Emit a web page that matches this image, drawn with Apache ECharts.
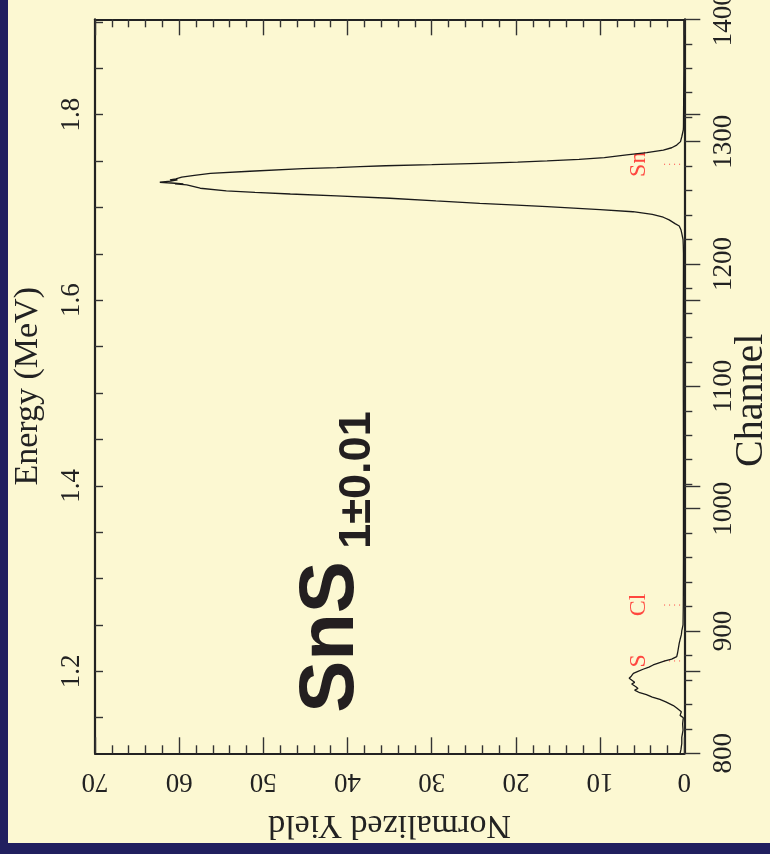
<!DOCTYPE html>
<html><head><meta charset="utf-8">
<script src="https://cdn.jsdelivr.net/npm/echarts@6/dist/echarts.min.js"></script>
<style>
html,body{margin:0;padding:0;background:#211f5f;width:770px;height:854px;overflow:hidden}
#c{position:absolute;left:8px;top:0;width:762px;height:843px;}
</style></head><body><div id="c"></div>
<script>
// Spectrum: channel (vertical axis) vs normalized yield (horizontal axis)
const channels = [800,803,808,813,819,824,829,831,834,837,839,842,844,846,848,849.5,851.7,853,854.4,856.6,858,859.3,861.3,863,865.4,867,868.7,870.5,872.2,874,875.5,877,879,882,886,890,893,897,900,905,920,960,1000,1050,1100,1150,1200,1209,1215,1220,1225,1228,1231,1233,1236,1238.2,1240.5,1242.7,1244.5,1246.8,1248.3,1249.6,1251.5,1253.7,1255.6,1257.2,1258.5,1259.7,1261.9,1264.6,1265.4,1265.5,1266,1266.8,1267.8,1268.7,1268.8,1269.5,1270.9,1272.5,1274.1,1275.8,1277.9,1278.7,1279.5,1280.3,1281.2,1282.3,1283.3,1284.2,1285.5,1287,1289.1,1291,1293.1,1295,1297.2,1300,1301.3,1304,1309.5,1312,1330,1360,1400];
const yields   = [0.5,0.4,0.3,0.3,0.15,0.2,0.12,0.5,0.35,0.9,1.3,2.2,2.9,3.8,4.5,5.3,5.9,5.5,5.75,6.25,5.9,6.1,6.55,6.3,6.05,5.5,4.9,4.2,3.7,3.0,2.3,1.5,0.9,0.8,0.7,0.6,0.5,0.35,0.3,0.15,0.12,0.1,0.1,0.1,0.12,0.12,0.1,0.1,0.12,0.15,0.3,0.4,0.6,1.1,1.8,2.5,3.8,6.1,10,16.3,20.5,24.3,29.5,35,41.3,46.8,51,54.4,57.5,59.1,60.5,59.5,60.5,62.3,61.0,60.2,61.1,60.4,59.7,58.2,56.3,51.6,45.3,41.3,38.5,35.5,30,24.3,19.8,16.3,12.5,9.5,6.84,4.47,2.49,1.5,0.9,0.45,0.31,0.3,0.12,0.1,0.08,0.05,0.05];

// Surface-edge markers
const markerNames = ['Sn','Cl','S'];
const markerChannels = [1281.5, 921.2, 875.5];
const markerYieldRange = [0.5, 2.7];
const markerLabelYield = 5.45;

// Axes
const channelRange = [800, 1400];
const yieldRange = [0, 70];
const energyLabelValues = [1.2, 1.4, 1.6, 1.8];
const energyMinorValues = [1.15,1.2,1.25,1.3,1.35,1.4,1.45,1.5,1.55,1.6,1.65,1.7,1.75,1.8,1.85,1.9];
// energy calibration: E = e0 + slope*(ch - ch0)
const energyCal = {ch0: 867.0, e0: 1.2, slope: 0.0013184};
const eMin = energyCal.e0 + energyCal.slope*(channelRange[0]-energyCal.ch0);
const eMax = energyCal.e0 + energyCal.slope*(channelRange[1]-energyCal.ch0);

const formulaMain = 'SnS';
const formulaSub = '1±0.01';

const axisColor = '#222';
const tickStyle = {color:'#333', width:1.4};
const serif = 'Liberation Serif';
const tickFont = {fontFamily: serif, fontSize: 27, color: '#222'};
const nameFont = {fontFamily: serif, fontSize: 34, color: '#222'};

const chart = echarts.init(document.getElementById('c'), null, {renderer:'canvas'});

const series = [{
  type:'line', xAxisIndex:0, yAxisIndex:0,
  data: channels.map((c,i)=>[yields[i], c]),
  symbol:'none', lineStyle:{color:'#1a1a1a', width:1.3}, z:5
}];
markerChannels.forEach((c)=>{
  series.push({type:'line', xAxisIndex:0, yAxisIndex:0, symbol:'none',
    data:[[markerYieldRange[0],c],[markerYieldRange[1],c]],
    lineStyle:{color:'#ff4040', width:1, type:[1,4]}});
});
series.push({type:'scatter', xAxisIndex:0, yAxisIndex:0, symbolSize:1,
  itemStyle:{color:'rgba(0,0,0,0)'},
  data: markerChannels.map((c,i)=>({name:markerNames[i], value:[markerLabelYield,c]})),
  label:{show:true, position:'inside', rotate:90, formatter:p=>p.name,
    fontFamily:serif, fontSize:24, color:'#ff1a1a'}});

chart.setOption({
  animation:false,
  backgroundColor:'#fcf8d2',
  grid:{left:87, right:85.7, top:19.3, bottom:89.7, containLabel:false, outerBoundsMode:'none'},
  xAxis:[
    {type:'value', position:'bottom', inverse:true, min:yieldRange[0], max:yieldRange[1], interval:10,
     axisLine:{show:true, onZero:false, lineStyle:{color:axisColor, width:2.2}},
     axisTick:{show:true, inside:true, length:16, lineStyle:tickStyle},
     minorTick:{show:true, splitNumber:5, length:8, lineStyle:tickStyle},
     splitLine:{show:false}, minorSplitLine:{show:false},
     axisLabel:Object.assign({rotate:180, margin:14, showMinLabel:true, showMaxLabel:true}, tickFont),
     name:'Normalized Yield', nameLocation:'middle', nameGap:55, nameRotate:180, nameTextStyle:nameFont},
    {type:'value', position:'top', inverse:true, min:yieldRange[0], max:yieldRange[1], interval:10,
     axisLine:{show:true, onZero:false, lineStyle:{color:axisColor, width:2.2}},
     axisTick:{show:true, inside:true, length:16, lineStyle:tickStyle},
     minorTick:{show:true, splitNumber:5, length:8, lineStyle:tickStyle},
     splitLine:{show:false}, axisLabel:{show:false}}
  ],
  yAxis:[
    {type:'value', position:'right', min:channelRange[0], max:channelRange[1], interval:100,
     axisLine:{show:true, onZero:false, lineStyle:{color:axisColor, width:2.2}},
     axisTick:{show:true, inside:false, length:16, lineStyle:tickStyle},
     minorTick:{show:true, splitNumber:5, length:8, lineStyle:tickStyle},
     splitLine:{show:false},
     axisLabel:Object.assign({rotate:90, margin:26, showMinLabel:true, showMaxLabel:true, formatter:v=>String(v)}, tickFont),
     name:'Channel', nameLocation:'middle', nameGap:47, nameRotate:90, nameMoveOverlap:false,
     nameTextStyle:Object.assign({}, nameFont, {fontSize:40, padding:[0,28,0,0]})},
    {type:'value', position:'left', min:eMin, max:eMax,
     axisLine:{show:true, onZero:false, lineStyle:{color:axisColor, width:2.2}},
     axisTick:{show:true, inside:true, length:8, lineStyle:tickStyle, customValues:energyMinorValues},
     splitLine:{show:false},
     axisLabel:Object.assign({rotate:90, margin:10, customValues:energyLabelValues, formatter:v=>v.toFixed(1)}, tickFont),
     name:'Energy (MeV)', nameLocation:'middle', nameGap:50, nameRotate:90, nameTextStyle:nameFont},
    {type:'value', position:'left', min:eMin, max:eMax,
     axisLine:{show:false},
     axisTick:{show:true, inside:true, length:16, lineStyle:tickStyle, customValues:energyLabelValues},
     splitLine:{show:false}, axisLabel:{show:false}}
  ],
  graphic:[
    {type:'text', x:323, y:637, rotation:Math.PI/2,
     style:{text:formulaMain, font:'bold 78px "Liberation Sans", Arial, sans-serif', fill:'#231f20', align:'center', verticalAlign:'middle'}},
    {type:'text', x:350, y:480, rotation:Math.PI/2,
     style:{text:formulaSub, font:'bold 45px "Liberation Sans", Arial, sans-serif', fill:'#231f20', align:'center', verticalAlign:'middle'}}
  ],
  series: series
});
</script></body></html>
